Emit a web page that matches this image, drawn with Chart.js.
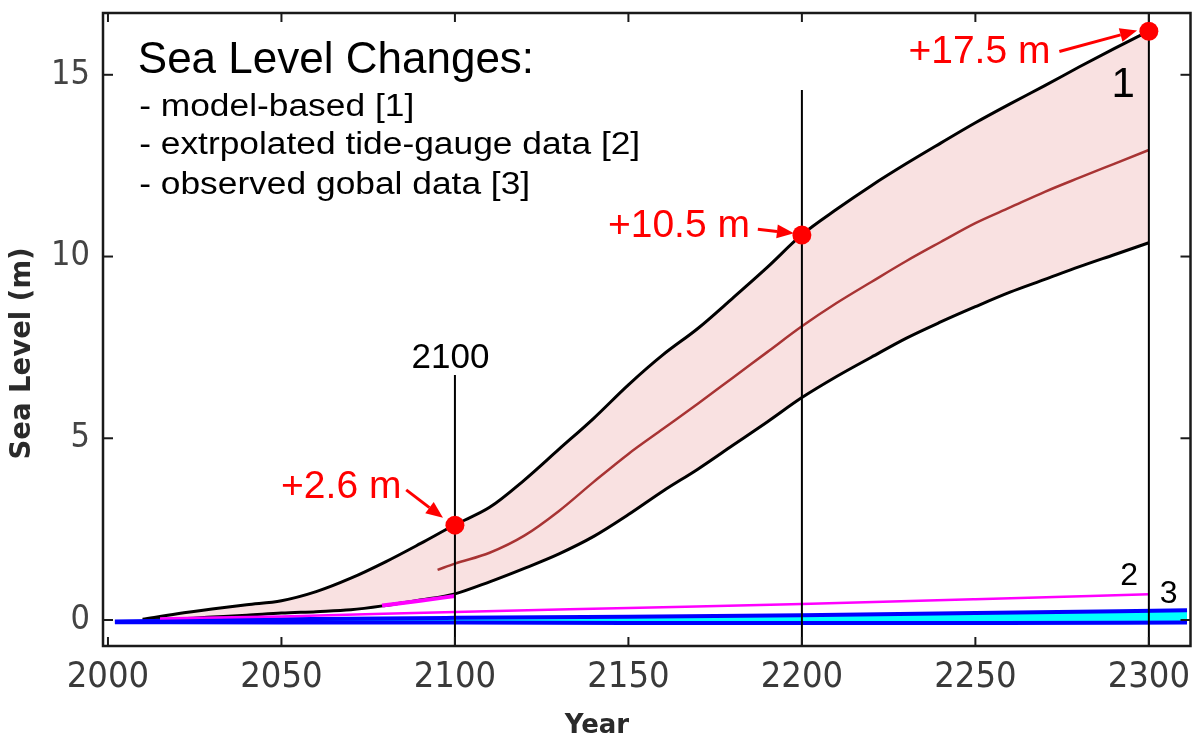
<!DOCTYPE html>
<html>
<head>
<meta charset="utf-8">
<script src="https://cdn.jsdelivr.net/npm/chart.js@4.4.1/dist/chart.umd.min.js"></script>
<style>
html,body{margin:0;padding:0;background:#ffffff;}
#wrap{width:1200px;height:743px;position:relative;}
</style>
</head>
<body>
<div id="wrap"><canvas id="c"></canvas></div>
<script>
// ---------------- data ----------------
const curveYears = [2010,2020,2030,2040,2050,2060,2070,2080,2090,2100,2110,2120,2130,2140,2150,2160,2170,2180,2190,2200,2210,2220,2230,2240,2250,2260,2270,2280,2290,2300];
const upperBound = [0.02,0.17,0.30,0.42,0.53,0.78,1.15,1.60,2.10,2.62,3.10,3.85,4.70,5.55,6.47,7.30,8.02,8.85,9.70,10.60,11.30,11.95,12.55,13.12,13.68,14.20,14.70,15.22,15.72,16.20];
const lowerBound = [0.00,0.03,0.08,0.13,0.19,0.23,0.28,0.40,0.55,0.72,1.05,1.42,1.82,2.30,2.90,3.55,4.15,4.80,5.45,6.12,6.70,7.23,7.75,8.20,8.62,9.02,9.37,9.72,10.05,10.38];
const midYears = [2095,2100,2110,2120,2130,2140,2150,2160,2170,2180,2190,2200,2210,2220,2230,2240,2250,2260,2270,2280,2290,2300];
const midValues = [1.38,1.55,1.85,2.32,3.00,3.80,4.57,5.26,5.95,6.66,7.37,8.08,8.72,9.30,9.87,10.40,10.92,11.35,11.78,12.17,12.55,12.93];
const tideYears = [2015,2050,2100,2150,2200,2250,2300];
const tideValues = [0.04,0.10,0.22,0.33,0.44,0.57,0.71];
const tideOverlayYears = [2079,2090,2100];
const tideOverlayValues = [0.40,0.53,0.66];
const obsYears = [2002,2050,2100,2150,2200,2250,2311];
const obsUpper = [-0.04,0.02,0.06,0.09,0.13,0.19,0.27];
const obsLower = [-0.06,-0.07,-0.07,-0.08,-0.08,-0.08,-0.07];
const markerYears = [2100,2200,2300];
const markerValues = [2.61,10.59,16.20];
const markerLabels = ['+2.6 m','+10.5 m','+17.5 m'];
const guideYears = [2100,2200,2300];
const guideTops = [6.74,14.58,16.70];
const xTicks = [2000,2050,2100,2150,2200,2250,2300];
const yTicks = [0,5,10,15];
const xRange = [1998.57,2312];
const yRange = [-0.715,16.70];

const pts = (xs, ys) => xs.map((x, i) => ({x: x, y: ys[i]}));

// ---------------- annotation layout (data coordinates) ----------------
const SANS = "'Liberation Sans', Arial, sans-serif";
const textNotes = [
  {text:'Sea Level Changes:', x:2008.6, y:15.05, size:44, color:'#000000', align:'left', stretch:1},
  {text:'- model-based [1]', x:2009.0, y:13.88, size:31, color:'#000000', align:'left', stretch:1.14},
  {text:'- extrpolated tide-gauge data [2]', x:2009.0, y:12.82, size:31, color:'#000000', align:'left', stretch:1.14},
  {text:'- observed gobal data [3]', x:2009.0, y:11.72, size:31, color:'#000000', align:'left', stretch:1.14},
  {text:markerLabels[0], x:2049.9, y:3.36, size:39, color:'#ff0000', align:'left', stretch:1},
  {text:markerLabels[1], x:2144.1, y:10.55, size:39, color:'#ff0000', align:'left', stretch:1},
  {text:markerLabels[2], x:2230.7, y:15.33, size:39, color:'#ff0000', align:'left', stretch:1},
  {text:'2100', x:2098.7, y:6.93, size:35, color:'#000000', align:'center', stretch:1},
  {text:'1', x:2292.6, y:14.40, size:42, color:'#000000', align:'center', stretch:1},
  {text:'2', x:2294.3, y:0.96, size:32, color:'#000000', align:'center', stretch:1},
  {text:'3', x:2305.7, y:0.46, size:32, color:'#000000', align:'center', stretch:1}
];
const arrows = [
  {from:[2085.96,3.58], to:[2096.56,2.81]},
  {from:[2187.3,10.75], to:[2197.7,10.64]},
  {from:[2274.2,15.64], to:[2296.6,16.22]}
];

const framePlugin = {
  id: 'frameTicks',
  afterDatasetsDraw(chart) {
    const {ctx, chartArea: a, scales} = chart;
    const x = scales.x, y = scales.y;
    ctx.save();
    ctx.strokeStyle = '#1a1a1a';
    ctx.lineWidth = 2.5;
    ctx.strokeRect(a.left, a.top, a.right - a.left, a.bottom - a.top);
    ctx.lineWidth = 2;
    const seg = (x1, y1, x2, y2) => { ctx.beginPath(); ctx.moveTo(x1, y1); ctx.lineTo(x2, y2); ctx.stroke(); };
    xTicks.forEach(v => {
      const px = x.getPixelForValue(v);
      seg(px, a.bottom, px, a.bottom - 9);
      seg(px, a.top, px, a.top + 9);
    });
    yTicks.forEach(v => {
      const py = y.getPixelForValue(v);
      seg(a.left, py, a.left + 10, py);
      seg(a.right, py, a.right - 10, py);
    });
    ctx.restore();
  }
};

const notesPlugin = {
  id: 'notes',
  afterDraw(chart) {
    const {ctx, scales} = chart;
    const x = scales.x, y = scales.y;
    ctx.save();
    // arrows
    ctx.strokeStyle = '#ff0000';
    ctx.fillStyle = '#ff0000';
    ctx.lineWidth = 3;
    arrows.forEach(ar => {
      const x1 = x.getPixelForValue(ar.from[0]), y1 = y.getPixelForValue(ar.from[1]);
      const x2 = x.getPixelForValue(ar.to[0]), y2 = y.getPixelForValue(ar.to[1]);
      const ang = Math.atan2(y2 - y1, x2 - x1);
      const hl = 17, hw = 7;
      const bx = x2 - hl * Math.cos(ang), by = y2 - hl * Math.sin(ang);
      ctx.beginPath(); ctx.moveTo(x1, y1); ctx.lineTo(bx, by); ctx.stroke();
      ctx.beginPath();
      ctx.moveTo(x2, y2);
      ctx.lineTo(bx + hw * Math.sin(ang), by - hw * Math.cos(ang));
      ctx.lineTo(bx - hw * Math.sin(ang), by + hw * Math.cos(ang));
      ctx.closePath(); ctx.fill();
    });
    // texts
    ctx.textBaseline = 'alphabetic';
    textNotes.forEach(n => {
      ctx.save();
      ctx.font = n.size + 'px ' + SANS;
      ctx.fillStyle = n.color;
      ctx.textAlign = n.align;
      const px = x.getPixelForValue(n.x), py = y.getPixelForValue(n.y);
      ctx.translate(px, py);
      ctx.scale(n.stretch, 1);
      ctx.fillText(n.text, 0, 0);
      ctx.restore();
    });
    ctx.restore();
  }
};

const lineBase = {type:'line', pointRadius:0, pointHoverRadius:0, fill:false, cubicInterpolationMode:'monotone'};

const datasets = [
  Object.assign({}, lineBase, {label:'model upper', data:pts(curveYears, upperBound), borderColor:'#000000', borderWidth:3, fill:1, backgroundColor:'#f9e1e1', order:10}),
  Object.assign({}, lineBase, {label:'model lower', data:pts(curveYears, lowerBound), borderColor:'#000000', borderWidth:3, order:9}),
  Object.assign({}, lineBase, {label:'observed upper', data:pts(obsYears, obsUpper), borderColor:'#0000ff', borderWidth:4, fill:3, backgroundColor:'#00ffff', order:8}),
  Object.assign({}, lineBase, {label:'observed lower', data:pts(obsYears, obsLower), borderColor:'#0000ff', borderWidth:4, order:7}),
  Object.assign({}, lineBase, {label:'model median', data:pts(midYears, midValues), borderColor:'#a83434', borderWidth:2.5, order:6}),
  Object.assign({}, lineBase, {label:'tide-gauge', data:pts(tideYears, tideValues), borderColor:'#ff00ff', borderWidth:2.5, order:5}),
  Object.assign({}, lineBase, {label:'tide-gauge overlay', data:pts(tideOverlayYears, tideOverlayValues), borderColor:'#ff00ff', borderWidth:4, order:5}),
];
guideYears.forEach((g, i) => {
  datasets.push(Object.assign({}, lineBase, {label:'guide ' + g, data:[{x:g, y:guideTops[i]}, {x:g, y:yRange[0]}], borderColor:'#000000', borderWidth:2, order:3, cubicInterpolationMode:'default', tension:0}));
});
datasets.push({type:'line', label:'markers', data:pts(markerYears, markerValues), showLine:false, pointRadius:9.5, pointHoverRadius:9.5, pointBackgroundColor:'#ff0000', pointBorderColor:'#ff0000', pointBorderWidth:0, order:1});

const TICK_FONT = "'Liberation Sans Narrow', 'DejaVu Sans Condensed', 'Liberation Sans', sans-serif";
const TITLE_FONT = "'DejaVu Sans', 'Liberation Sans', sans-serif";

new Chart(document.getElementById('c'), {
  type: 'line',
  data: {datasets: datasets},
  options: {
    responsive: true,
    maintainAspectRatio: false,
    animation: false,
    events: [],
    layout: {padding: {top: 13, right: 3, left: 0, bottom: 0}},
    plugins: {legend: {display: false}, tooltip: {enabled: false}},
    scales: {
      x: {
        type: 'linear', min: xRange[0], max: xRange[1],
        afterBuildTicks: s => { s.ticks = xTicks.map(v => ({value: v})); },
        afterFit: s => { s.height = 97; s.paddingLeft = 0; s.paddingRight = 0; },
        grid: {display: false, drawTicks: false},
        border: {display: false},
        ticks: {font: {family: TICK_FONT, size: 36}, color: '#3a3a3a', padding: 10, maxRotation: 0, autoSkip: false,
                callback: v => String(v)},
        title: {display: true, text: 'Year           ', font: {family: TITLE_FONT, size: 26, weight: 'bold'}, color: '#2a2a2a', padding: {top: 0, bottom: 1}}
      },
      y: {
        type: 'linear', min: yRange[0], max: yRange[1],
        afterBuildTicks: s => { s.ticks = yTicks.map(v => ({value: v})); },
        afterFit: s => { s.width = 103; s.paddingTop = 0; s.paddingBottom = 0; },
        grid: {display: false, drawTicks: false},
        border: {display: false},
        ticks: {font: {family: TICK_FONT, size: 34}, color: '#444444', padding: 13, callback: v => String(v)},
        title: {display: true, text: 'Sea Level (m)     ', font: {family: TITLE_FONT, size: 27.5, weight: 'bold'}, color: '#2a2a2a', padding: {top: 6, bottom: 0}}
      }
    }
  },
  plugins: [framePlugin, notesPlugin]
});
</script>
</body>
</html>
